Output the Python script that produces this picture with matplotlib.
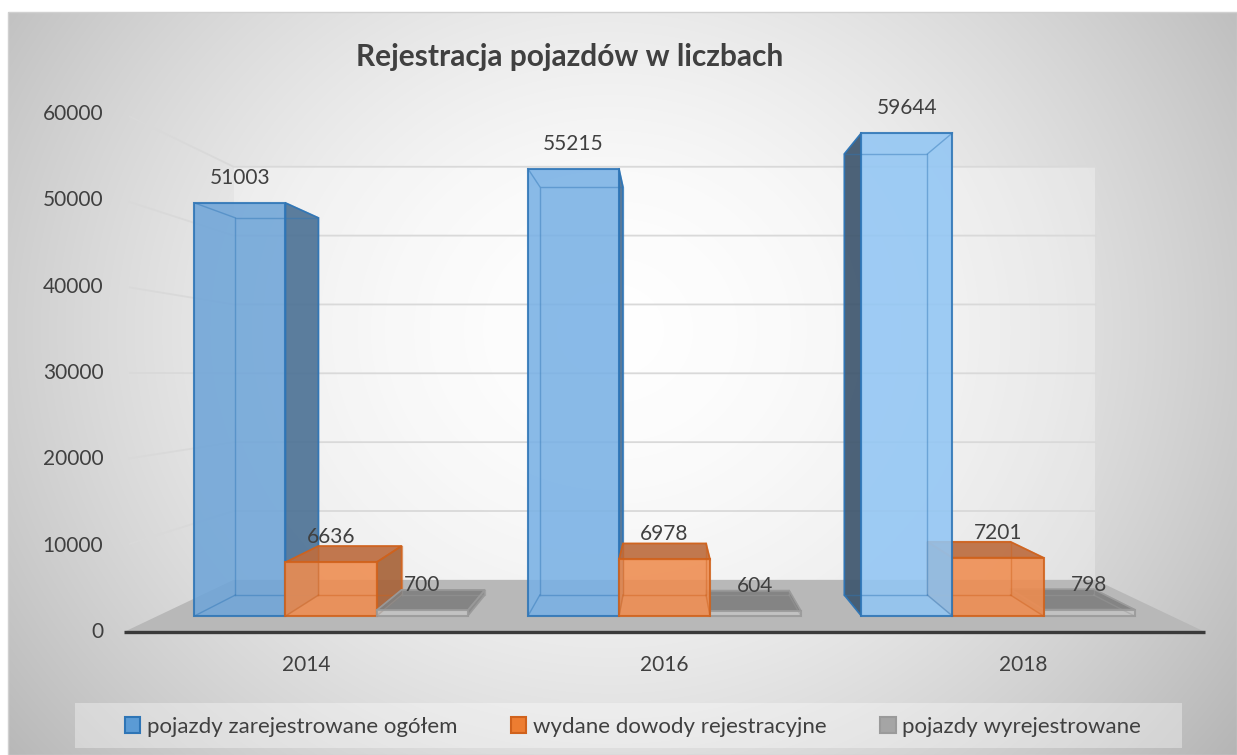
import numpy as np
import matplotlib.pyplot as plt
from matplotlib.patches import Polygon, Rectangle, Patch

plt.rcParams['font.family'] = ['Lato', 'DejaVu Sans']

# dane
lata = ['2014', '2016', '2018']
zarejestrowane = [51003, 55215, 59644]
dowody = [6636, 6978, 7201]
wyrejestrowane = [700, 604, 798]
nazwy_serii = ['pojazdy zarejestrowane ogółem', 'wydane dowody rejestracyjne',
               'pojazdy wyrejestrowane']
y_ticks = [0, 10000, 20000, 30000, 40000, 50000, 60000]

serie = [zarejestrowane, dowody, wyrejestrowane]

# style serii: front, bok, gora, krawedz
kolory_front = [['#6fa5d8', '#79b1e5', '#92c6f4'], ['#ef8c4f'] * 3, ['#c4c4c4'] * 3]
kolory_bok = [['#4e7396', '#4a6f93', '#3e566e'], ['#a8643a'] * 3, ['#8a8a8a'] * 3]
kolory_gora = ['#5d88b2', '#bd6d40', '#808080']
kolory_kraw = ['#2e75b6', '#d0621c', '#9a9a9a']
kolory_leg = ['#5b9bd5', '#ed7d31', '#a5a5a5']

# perspektywa (punkt zbiegu w srodku wykresu)
CX = 1.0
VY = 29750
S_FLOOR = 1.066
S_FRONT = 1.0
S_BACK = 0.913
S_WALL = 0.85
X_LEFT, X_RIGHT = -0.52, 2.52
BAR_W = 0.273


def proj(x, v, s):
    return (CX + s * (x - CX), VY + s * (v - VY))


W, H = 1237, 755
fig = plt.figure(figsize=(W / 100, H / 100), dpi=100)

# tlo z gradientem
bg = fig.add_axes([0, 0, 1, 1], zorder=0)
yy, xx = np.mgrid[0:H, 0:W]
r = np.sqrt(((xx - 610) / 700.0) ** 2 + ((yy - 330) / 620.0) ** 2)
val = 1 - 0.24 * np.clip(r, 0, 1.3) ** 1.6
img = np.dstack([val] * 3)
img[:12, :] = 1
img[:, :8] = 1
bg.imshow(img, extent=(0, W, H, 0), aspect='auto', interpolation='bilinear')
bg.set_xlim(0, W)
bg.set_ylim(H, 0)
bg.axis('off')
bg.add_patch(Rectangle((8, 12), W - 8, H - 12, fill=False, ec='#d0d0d0', lw=1))
bg.add_patch(Rectangle((75, 703), 1107, 45, fc='white', alpha=0.35, ec='none'))

ax = fig.add_axes([0, 0, 1, 1], zorder=1)
ax.patch.set_alpha(0)
ax.set_xlim(-0.9925, 2.7166)
ax.set_ylim(-17160, 76049)
ax.axis('off')

# sciana tylna
wall = [proj(X_LEFT, 0, S_WALL), proj(X_RIGHT, 0, S_WALL),
        proj(X_RIGHT, max(y_ticks), S_WALL), proj(X_LEFT, max(y_ticks), S_WALL)]
ax.add_patch(Polygon(wall, closed=True, fc='white', alpha=0.3, ec='none', zorder=1))

# podloga
floor = [proj(X_LEFT, 0, S_FLOOR), proj(X_RIGHT, 0, S_FLOOR),
         proj(X_RIGHT, 0, S_WALL), proj(X_LEFT, 0, S_WALL)]
ax.add_patch(Polygon(floor, closed=True, fc='#b8b8b8', ec='none', zorder=2))
p0, p1 = proj(X_LEFT, 0, S_FLOOR), proj(X_RIGHT, 0, S_FLOOR)
ax.plot([p0[0], p1[0]], [p0[1], p1[1]], color='#3a3a3a', lw=2.4, zorder=3,
        solid_capstyle='butt')

# linie siatki i etykiety osi Y
for t in y_ticks:
    if t > 0:
        a = proj(X_LEFT, t, 1.055)
        b = proj(X_LEFT, t, S_WALL)
        c = proj(X_RIGHT, t, S_WALL)
        ax.plot([a[0], b[0], c[0]], [a[1], b[1], c[1]], color='#d9d9d9',
                lw=1.3, zorder=1.5)
    ax.annotate(str(t), xy=proj(X_LEFT, t, S_FLOOR), xytext=(-15, 0),
                textcoords='offset points', ha='right', va='center',
                fontsize=15, color='#404040')

# etykiety osi X
for i, rok in enumerate(lata):
    ax.annotate(rok, xy=proj(i, 0, 1.075), xytext=(0, -22),
                textcoords='offset points', ha='center', va='center',
                fontsize=15, color='#404040')

# slupki 3D
bars = []
for j, dane in enumerate(serie):
    for i, v in enumerate(dane):
        x0 = i - 1.5 * BAR_W + j * BAR_W
        bars.append((j, i, x0, x0 + BAR_W, v))
bars.sort(key=lambda b: -abs((b[2] + b[3]) / 2 - CX))

z = 4
for j, i, x0, x1, v in bars:
    kraw = kolory_kraw[j]
    # bok
    if x1 < CX:
        xs = x1
    elif x0 > CX:
        xs = x0
    else:
        xs = None
    if xs is not None:
        side = [proj(xs, 0, S_FRONT), proj(xs, v, S_FRONT),
                proj(xs, v, S_BACK), proj(xs, 0, S_BACK)]
        ax.add_patch(Polygon(side, closed=True, fc=kolory_bok[j][i], alpha=0.92,
                             ec=kraw, lw=1.2, zorder=z))
    # gora
    if v < VY:
        top = [proj(x0, v, S_FRONT), proj(x1, v, S_FRONT),
               proj(x1, v, S_BACK), proj(x0, v, S_BACK)]
        ax.add_patch(Polygon(top, closed=True, fc=kolory_gora[j], alpha=0.92,
                             ec=kraw, lw=1.2, zorder=z))
    # front
    front = [proj(x0, 0, S_FRONT), proj(x1, 0, S_FRONT),
             proj(x1, v, S_FRONT), proj(x0, v, S_FRONT)]
    ax.add_patch(Polygon(front, closed=True, fc=kolory_front[j][i], alpha=0.88,
                         ec=kraw, lw=1.5, zorder=z + 0.5))
    # ukryte krawedzie widoczne przez przezroczystosc
    back = [proj(x0, 0, S_BACK), proj(x1, 0, S_BACK), proj(x1, v, S_BACK),
            proj(x0, v, S_BACK), proj(x0, 0, S_BACK)]
    ax.plot([p[0] for p in back], [p[1] for p in back], color=kraw, lw=1,
            alpha=0.45, zorder=z + 0.6)
    for xx_, vv_ in [(x0, 0), (x1, 0), (x0, v), (x1, v)]:
        a = proj(xx_, vv_, S_FRONT)
        b = proj(xx_, vv_, S_BACK)
        ax.plot([a[0], b[0]], [a[1], b[1]], color=kraw, lw=1, alpha=0.45,
                zorder=z + 0.6)
    z += 1

# etykiety danych
for j, dane in enumerate(serie):
    for i, v in enumerate(dane):
        xc = i - BAR_W + j * BAR_W
        ax.annotate(str(v), xy=(xc, v), xytext=(0, 18), textcoords='offset points',
                    ha='center', va='center', fontsize=15, color='#404040',
                    zorder=30)

# tytul
fig.text(570 / W, 1 - 57 / H, 'Rejestracja pojazdów w liczbach', ha='center',
         va='center', fontsize=21.5, fontweight='bold', color='#404040')

# legenda
uchwyty = [Patch(fc=kolory_leg[k], ec=kolory_kraw[k], lw=1.5) for k in range(3)]
leg = fig.legend(uchwyty, nazwy_serii, loc='center', ncol=3,
                 bbox_to_anchor=(633 / W, 1 - 727 / H), frameon=False,
                 fontsize=16, handlelength=0.7, handleheight=0.75,
                 handletextpad=0.3, columnspacing=2.4)
for t in leg.get_texts():
    t.set_color('#404040')

fig.savefig('out.png', dpi=100)
